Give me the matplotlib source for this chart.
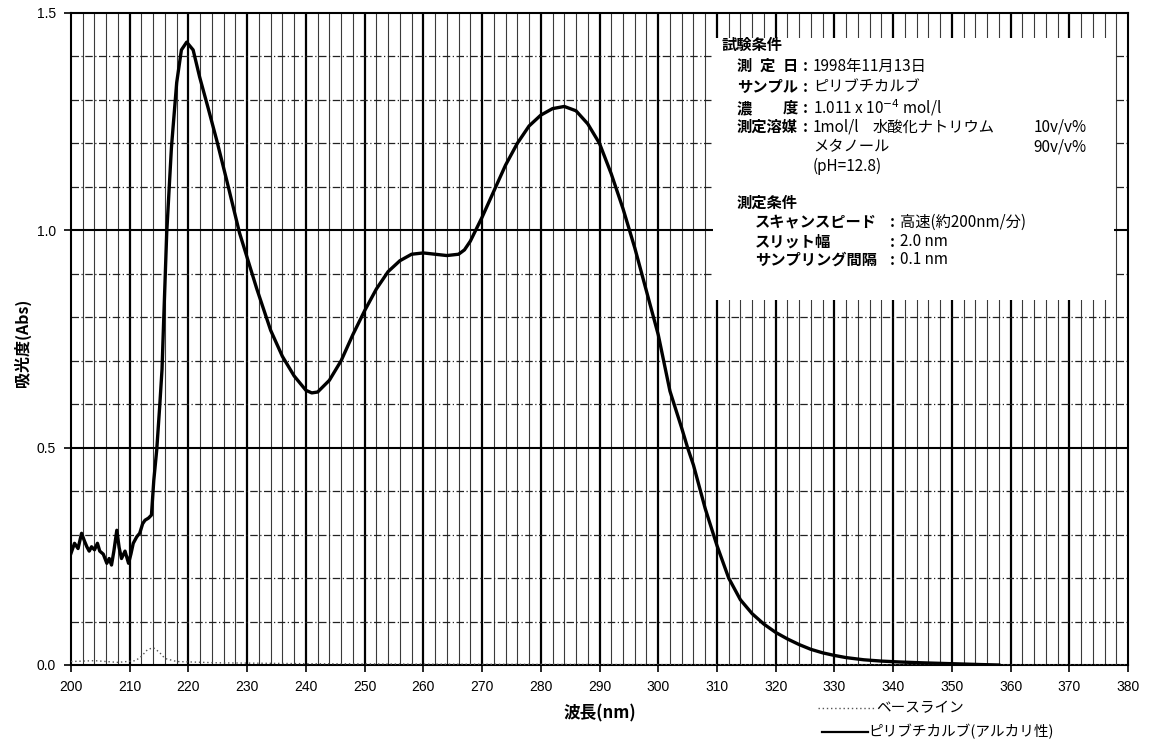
"""
UV absorption spectrum of pyributicarb (alkaline solution)
"""

import numpy as np
import matplotlib
matplotlib.use('Agg')
import matplotlib.pyplot as plt
from matplotlib.lines import Line2D
from matplotlib.patches import Rectangle

plt.rcParams['font.family'] = ['Noto Sans CJK JP', 'DejaVu Sans']

# sample spectrum (nm, Abs)
wl = [200.0, 200.6, 201.2, 201.8, 202.3, 202.7, 203.1, 203.5, 204.0, 204.5, 204.9,
      205.5, 206.1, 206.5, 206.9, 207.3, 207.8, 208.2, 208.6, 209.2, 209.8, 210.2,
      210.6, 211.2, 211.7, 212.2, 212.6, 213.2, 213.7, 214.1, 214.6, 215.1, 215.5,
      215.8, 216.3, 217.1, 218.0, 218.8, 219.7, 220.8, 221.9, 223.3, 224.8, 226.5,
      228.7, 231.6, 234.0, 236.0, 238.0, 240.0, 241.0, 242.0, 244.0, 246.0, 248.0,
      250.0, 252.0, 254.0, 256.0, 258.0, 260.0, 262.0, 264.0, 266.0, 267.0, 268.0,
      270.0, 272.0, 274.0, 276.0, 278.0, 280.0, 282.0, 284.0, 286.0, 288.0, 290.0,
      292.0, 294.0, 296.0, 298.0, 300.0, 302.0, 304.0, 305.0, 306.0, 307.0, 308.0,
      310.0, 312.0, 314.0, 316.0, 318.0, 320.0, 322.0, 324.0, 326.0, 328.0, 330.0,
      332.0, 335.0, 338.0, 341.0, 345.0, 350.0, 355.0, 358.0]
absorb = [0.257, 0.280, 0.268, 0.303, 0.285, 0.272, 0.262, 0.272, 0.265, 0.280, 0.262,
          0.255, 0.234, 0.245, 0.230, 0.262, 0.310, 0.270, 0.245, 0.262, 0.234, 0.255,
          0.280, 0.295, 0.303, 0.325, 0.333, 0.338, 0.345, 0.425, 0.495, 0.594, 0.680,
          0.800, 0.994, 1.190, 1.340, 1.415, 1.433, 1.415, 1.353, 1.284, 1.208, 1.116,
          0.994, 0.867, 0.770, 0.710, 0.665, 0.632, 0.626, 0.628, 0.655, 0.700, 0.760,
          0.815, 0.865, 0.905, 0.930, 0.945, 0.948, 0.945, 0.942, 0.945, 0.955, 0.975,
          1.030, 1.090, 1.150, 1.200, 1.240, 1.265, 1.280, 1.285, 1.275, 1.245, 1.200,
          1.130, 1.050, 0.960, 0.860, 0.760, 0.630, 0.545, 0.500, 0.460, 0.410, 0.360,
          0.275, 0.200, 0.150, 0.118, 0.094, 0.075, 0.060, 0.047, 0.036, 0.028, 0.022,
          0.017, 0.012, 0.009, 0.007, 0.005, 0.003, 0.001, 0.000]

# baseline (solvent blank)
base_wl = [200, 204, 208, 211, 212, 213, 214, 215, 216, 218, 225, 240, 260, 300, 340, 380]
base_abs = [0.008, 0.010, 0.006, 0.010, 0.020, 0.035, 0.040, 0.030, 0.015, 0.008,
            0.005, 0.003, 0.002, 0.001, 0.000, 0.000]

xticks = list(range(200, 381, 10))
yticks = [0.0, 0.5, 1.0, 1.5]

W, H = 1161, 741
fig = plt.figure(figsize=(W / 100, H / 100), dpi=100)
ax = fig.add_axes([71 / W, 1 - 665 / H, 1057 / W, 652 / H])

ax.set_xlim(200, 380)
ax.set_ylim(0, 1.5)

# graph paper grid
for x in range(202, 380, 2):
    if x % 10:
        ax.axvline(x, color='#3a3a3a', lw=0.8, zorder=1)
for x in range(210, 380, 10):
    ax.axvline(x, color='black', lw=1.6, zorder=1)
for y in np.arange(0.1, 1.5, 0.1):
    if abs(y - 0.5) > 0.01 and abs(y - 1.0) > 0.01:
        ax.axhline(y, color='#222222', lw=0.9, ls=(0, (6, 2, 1, 2)), zorder=1)
for y in [0.5, 1.0]:
    ax.axhline(y, color='black', lw=1.5, zorder=1)

# white panel for the test conditions
ax.add_patch(Rectangle((0.607, 0.56), 0.38, 0.402, transform=ax.transAxes,
                       facecolor='white', edgecolor='none', zorder=2))

ax.plot(base_wl, base_abs, color='#555555', lw=1.0, ls=(0, (1, 2)), zorder=3)
ax.plot(wl, absorb, color='black', lw=2.4, zorder=4)

ax.set_xticks(xticks)
ax.set_yticks(yticks)
ax.set_xticklabels([str(v) for v in xticks], fontsize=10, family='Liberation Sans')
ax.set_yticklabels(['%.1f' % v for v in yticks], fontsize=10, family='Liberation Sans')
ax.tick_params(direction='out', length=5, width=1.2, pad=6)
for s in ax.spines.values():
    s.set_linewidth(1.5)

fig.text(22 / W, 1 - 343 / H, '吸光度(Abs)', rotation=90, ha='center', va='center',
         fontsize=11.5, fontweight='bold')
fig.text(600 / W, 1 - 713 / H, '波長(nm)', ha='center', va='center',
         fontsize=12, fontweight='bold')


def put(x, y, s, size=11, **kw):
    fig.text(x / W, 1 - y / H, s, va='center', fontsize=size, **kw)


rows = [45, 66, 87, 108, 127, 147, 166]
put(722, rows[0], '試験条件', fontweight='bold')
put(737, rows[1], '測', fontweight='bold')
put(760, rows[1], '定', fontweight='bold')
put(783, rows[1], '日', fontweight='bold')
put(737, rows[2], 'サンプル', fontweight='bold')
put(737, rows[3], '濃', fontweight='bold')
put(783, rows[3], '度', fontweight='bold')
put(737, rows[4], '測定溶媒', fontweight='bold')
for yy in rows[1:5]:
    put(803, yy, ':', fontweight='bold')
put(813, rows[1], '1998年11月13日')
put(813, rows[2], 'ピリブチカルブ')
put(813, rows[3], '1.011 x 10$^{-4}$ mol/l')
put(813, rows[4], '1mol/l')
put(873, rows[4], '水酸化ナトリウム')
put(1087, rows[4], '10v/v%', ha='right')
put(813, rows[5], 'メタノール')
put(1087, rows[5], '90v/v%', ha='right')
put(813, rows[6], '(pH=12.8)')

rows2 = [203, 222, 242, 260]
put(737, rows2[0], '測定条件', fontweight='bold')
put(755, rows2[1], 'スキャンスピード', fontweight='bold')
put(755, rows2[2], 'スリット幅', fontweight='bold')
put(755, rows2[3], 'サンプリング間隔', fontweight='bold')
for yy in rows2[1:]:
    put(890, yy, ':', fontweight='bold')
put(900, rows2[1], '高速(約200nm/分)')
put(900, rows2[2], '2.0 nm')
put(900, rows2[3], '0.1 nm')

# legend under the axes
fig.add_artist(Line2D([818 / W, 875 / W], [1 - 708 / H, 1 - 708 / H],
                      color='#555555', lw=1.0, ls=(0, (1, 2))))
put(876, 708, 'ベースライン', size=10.5)
fig.add_artist(Line2D([822 / W, 868 / W], [1 - 732 / H, 1 - 732 / H],
                      color='black', lw=1.6))
put(868, 732, 'ピリブチカルブ(アルカリ性)', size=10.5)

plt.savefig('out.png', dpi=100)
